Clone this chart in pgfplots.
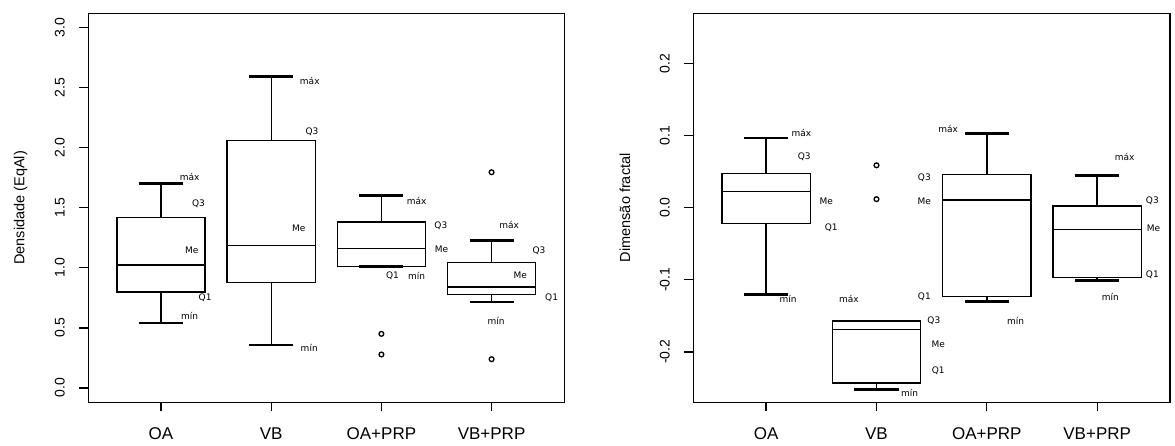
\documentclass[border=0pt]{standalone}
\usepackage{pgfplots}
\usepgfplotslibrary{statistics}
\pgfplotsset{compat=1.18}
\usepackage{fontspec}
\setmainfont{Liberation Sans}
\newfontfamily\annfont{DejaVu Sans}

\pgfplotsset{
  rframe/.style={
    scale only axis, anchor=south west,
    width=476pt, height=389pt,
    xmin=0.34, xmax=4.66,
    xtick={1,2,3,4}, xticklabels={OA,VB,OA+PRP,VB+PRP},
    tick align=outside, major tick length=9pt,
    xtick pos=bottom, ytick pos=left,
    axis line style={line width=1.3pt},
    every tick/.style={black, line width=1.3pt},
    xticklabel style={font=\fontsize{17}{19}\selectfont},
    yticklabel style={font=\fontsize{14}{16}\selectfont, rotate=90, anchor=south},
    yticklabel shift=11pt, xticklabel shift=13pt,
    ylabel style={font=\fontsize{14.5}{16}\selectfont},
    clip=false,
  },
  rbox/.style={
    black, line width=1.4pt, mark=o, mark size=2.4pt,
    mark options={line width=1.3pt},
    boxplot/draw direction=y,
    boxplot/box extend=0.8,
    boxplot/whisker extend=0.4,
    boxplot/draw/lower whisker/.code={
      \draw (boxplot box cs:\pgfplotsboxplotvalue{lower whisker},0.5) --
            (boxplot box cs:\pgfplotsboxplotvalue{lower quartile},0.5);
      \draw[line width=2.6pt] (boxplot whisker cs:\pgfplotsboxplotvalue{lower whisker},0) --
            (boxplot whisker cs:\pgfplotsboxplotvalue{lower whisker},1);
    },
    boxplot/draw/upper whisker/.code={
      \draw (boxplot box cs:\pgfplotsboxplotvalue{upper whisker},0.5) --
            (boxplot box cs:\pgfplotsboxplotvalue{upper quartile},0.5);
      \draw[line width=2.6pt] (boxplot whisker cs:\pgfplotsboxplotvalue{upper whisker},0) --
            (boxplot whisker cs:\pgfplotsboxplotvalue{upper whisker},1);
    },
  },
}
\tikzset{ann/.style={font=\annfont\fontsize{9}{10}\selectfont, inner sep=0pt}}

\begin{document}
\begin{tikzpicture}
\path[use as bounding box] (0pt,0pt) rectangle (1175pt,446pt);

% left panel: density
\begin{axis}[rframe, at={(88.3pt,43.7pt)},
  ymin=-0.12, ymax=3.12,
  ytick={0,0.5,1,1.5,2,2.5,3},
  yticklabels={0.0,0.5,1.0,1.5,2.0,2.5,3.0},
  ylabel={Densidade (EqAl)},
  ylabel style={at={(axis description cs:-0.142,0.5)}, anchor=center, rotate=0},
]
\addplot[rbox, boxplot prepared={draw position=1,
  lower whisker=0.54, lower quartile=0.80, median=1.023,
  upper quartile=1.418, upper whisker=1.70}] coordinates {};
\addplot[rbox, boxplot prepared={draw position=2,
  lower whisker=0.356, lower quartile=0.876, median=1.184,
  upper quartile=2.06, upper whisker=2.594}] coordinates {};
\addplot[rbox, boxplot prepared={draw position=3,
  lower whisker=1.01, lower quartile=1.012, median=1.163,
  upper quartile=1.382, upper whisker=1.60}] coordinates {(0,0.45) (0,0.278)};
\addplot[rbox, boxplot prepared={draw position=4,
  lower whisker=0.717, lower quartile=0.779, median=0.84,
  upper quartile=1.046, upper whisker=1.226}] coordinates {(0,1.796) (0,0.239)};

\node[ann] at (axis cs:1.26,1.755) {máx};
\node[ann] at (axis cs:1.34,1.532) {Q3};
\node[ann] at (axis cs:1.28,1.143) {Me};
\node[ann] at (axis cs:1.40,0.754) {Q1};
\node[ann] at (axis cs:1.26,0.598) {mín};
\node[ann] at (axis cs:2.35,2.558) {máx};
\node[ann] at (axis cs:2.37,2.13) {Q3};
\node[ann] at (axis cs:2.25,1.329) {Me};
\node[ann] at (axis cs:2.345,0.337) {mín};
\node[ann] at (axis cs:3.32,1.555) {máx};
\node[ann] at (axis cs:3.54,1.354) {Q3};
\node[ann] at (axis cs:3.545,1.157) {Me};
\node[ann] at (axis cs:3.10,0.934) {Q1};
\node[ann] at (axis cs:3.32,0.934) {mín};
\node[ann] at (axis cs:4.16,1.354) {máx};
\node[ann] at (axis cs:4.43,1.143) {Q3};
\node[ann] at (axis cs:4.26,0.94) {Me};
\node[ann] at (axis cs:4.545,0.754) {Q1};
\node[ann] at (axis cs:4.04,0.554) {mín};
\end{axis}

% right panel: fractal dimension
\begin{axis}[rframe, at={(693.3pt,43.7pt)}, width=476.7pt,
  ymin=-0.27, ymax=0.27,
  ytick={-0.2,-0.1,0,0.1,0.2},
  yticklabels={-0.2,-0.1,0.0,0.1,0.2},
  ylabel={Dimensão fractal},
  ylabel style={at={(axis description cs:-0.1433,0.5)}, anchor=center, rotate=0},
]
\addplot[rbox, boxplot prepared={draw position=1,
  lower whisker=-0.120, lower quartile=-0.022, median=0.023,
  upper quartile=0.048, upper whisker=0.097}] coordinates {};
\addplot[rbox, boxplot prepared={draw position=2,
  lower whisker=-0.252, lower quartile=-0.243, median=-0.169,
  upper quartile=-0.157, upper whisker=-0.157}] coordinates {(0,0.059) (0,0.012)};
\addplot[rbox, boxplot prepared={draw position=3,
  lower whisker=-0.130, lower quartile=-0.1235, median=0.011,
  upper quartile=0.046, upper whisker=0.1035}] coordinates {};
\addplot[rbox, boxplot prepared={draw position=4,
  lower whisker=-0.101, lower quartile=-0.097, median=-0.030,
  upper quartile=0.0025, upper whisker=0.0445}] coordinates {};

\node[ann] at (axis cs:1.32,0.1045) {máx};
\node[ann] at (axis cs:1.345,0.071) {Q3};
\node[ann] at (axis cs:1.545,0.0094) {Me};
\node[ann] at (axis cs:1.59,-0.028) {Q1};
\node[ann] at (axis cs:1.20,-0.126) {mín};
\node[ann] at (axis cs:1.75,-0.126) {máx};
\node[ann] at (axis cs:2.52,-0.157) {Q3};
\node[ann] at (axis cs:2.56,-0.190) {Me};
\node[ann] at (axis cs:2.56,-0.226) {Q1};
\node[ann] at (axis cs:2.30,-0.257) {mín};
\node[ann] at (axis cs:2.65,0.109) {máx};
\node[ann] at (axis cs:2.434,0.0417) {Q3};
\node[ann] at (axis cs:2.434,0.0094) {Me};
\node[ann] at (axis cs:2.434,-0.1235) {Q1};
\node[ann] at (axis cs:3.26,-0.157) {mín};
\node[ann] at (axis cs:4.25,0.071) {máx};
\node[ann] at (axis cs:4.50,0.0094) {Q3};
\node[ann] at (axis cs:4.51,-0.028) {Me};
\node[ann] at (axis cs:4.50,-0.093) {Q1};
\node[ann] at (axis cs:4.12,-0.1235) {mín};
\end{axis}
\end{tikzpicture}
\end{document}
